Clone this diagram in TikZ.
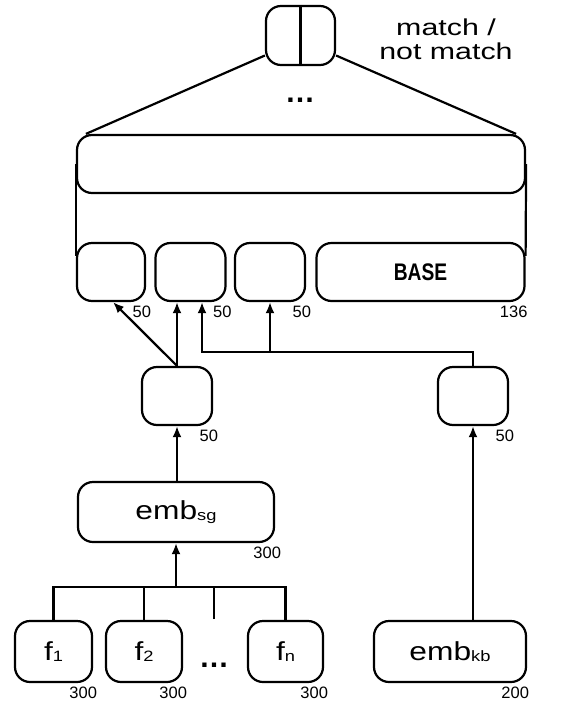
\documentclass[tikz,border=0pt]{standalone}
\usepackage{fontspec}
\setmainfont{Liberation Sans}
\newfontfamily\widesans[FakeStretch=1.22]{Liberation Sans}
\newfontfamily\widersans[FakeStretch=1.32]{Liberation Sans}
\usetikzlibrary{arrows.meta}

\newcommand{\subtext}[1]{\raisebox{-1pt}{\fontsize{15}{15}\selectfont #1}}

\begin{document}
\begin{tikzpicture}[x=1pt, y=-1pt, line width=2.2pt,
    every path/.style={-{Latex[length=11pt, width=9pt]}},
    unit/.style={draw, rounded corners=15pt, inner sep=0pt, minimum height=58pt, font=\widesans\fontsize{26}{26}\selectfont},
    dim/.style={anchor=north east, inner sep=0pt, font=\fontsize{16.5}{16.5}\selectfont}]
    \useasboundingbox (0, 0) rectangle (584, 702);

    \node (top) [unit, minimum width=69pt, minimum height=59pt, at={(300.5, 35.5)}] {};
    \node (verdict) [align=center, inner sep=0pt, font=\widersans\fontsize{23}{24}\selectfont, at={(446, 39)}] {match /\\not match};
    \node (top-dots) [inner sep=0pt, font=\bfseries\fontsize{30}{30}\selectfont, at={(300, 100)}] {…};
    \node (big) [unit, minimum width=448pt, at={(301, 164)}] {};

    \node (b1) [unit, minimum width=68pt, at={(111, 272)}] {};
    \node (b2) [unit, minimum width=70pt, at={(190.5, 272)}] {};
    \node (b3) [unit, minimum width=70pt, at={(270, 272)}] {};
    \node (base) [unit, minimum width=208pt, at={(420.5, 272)}, font=\bfseries\fontsize{24}{24}\selectfont] {\scalebox{0.8}[1]{BASE}};

    \node (m1) [unit, minimum width=70pt, at={(177, 396)}] {};
    \node (m2) [unit, minimum width=70pt, at={(473, 396)}] {};
    \node (embsg) [unit, minimum width=196pt, minimum height=60pt, at={(176, 512)}] {emb\subtext{sg}};

    \node (f1) [unit, minimum width=77pt, minimum height=61pt, at={(53.5, 651.5)}] {f\subtext{1}};
    \node (f2) [unit, minimum width=76pt, minimum height=61pt, at={(144, 651.5)}] {f\subtext{2}};
    \node (f-dots) [inner sep=0pt, font=\bfseries\fontsize{30}{30}\selectfont, at={(214, 665)}] {…};
    \node (fn) [unit, minimum width=75pt, minimum height=61pt, at={(285.5, 651.5)}] {f\subtext{n}};
    \node (embkb) [unit, minimum width=152pt, minimum height=61pt, at={(450, 651.5)}] {emb\subtext{kb}};

    \node (b1-dim) [dim, at={([xshift=6pt, yshift=-3pt]b1.south east)}] {50};
    \node (b2-dim) [dim, at={([xshift=6pt, yshift=-3pt]b2.south east)}] {50};
    \node (b3-dim) [dim, at={([xshift=6pt, yshift=-3pt]b3.south east)}] {50};
    \node (base-dim) [dim, at={([xshift=3pt, yshift=-3pt]base.south east)}] {136};
    \node (m1-dim) [dim, at={([xshift=6pt, yshift=-3pt]m1.south east)}] {50};
    \node (m2-dim) [dim, at={([xshift=6pt, yshift=-3pt]m2.south east)}] {50};
    \node (embsg-dim) [dim, at={([xshift=7pt, yshift=-3pt]embsg.south east)}] {300};
    \node (f1-dim) [dim, at={([xshift=5pt, yshift=-3pt]f1.south east)}] {300};
    \node (f2-dim) [dim, at={([xshift=5pt, yshift=-3pt]f2.south east)}] {300};
    \node (fn-dim) [dim, at={([xshift=5pt, yshift=-3pt]fn.south east)}] {300};
    \node (embkb-dim) [dim, at={([xshift=3pt, yshift=-3pt]embkb.south east)}] {200};

    \draw [-{}] (top.north) -- (top.south);
    \draw [-{}] ([yshift=-20pt]top.west) -- ([xshift=10pt]big.north west);
    \draw [-{}] ([yshift=-20pt]top.east) -- ([xshift=-10pt]big.north east);
    \draw [-{}] (big.west) -- ([yshift=-14pt]b1.north west);
    \draw [-{}] (big.east) -- ([yshift=-14pt]base.north east);

    \draw (m1.north) -- ([xshift=2pt]b1.south);
    \draw (m1.north) -- (m1.north |- b2.south);
    \coordinate (kb-bus) at ([yshift=14pt]m2.north);
    \draw (m2.north) -- (kb-bus) -| ([xshift=11.5pt]b2.south);
    \draw (b3.south |- kb-bus) -- (b3.south);

    \draw (embsg.north -| m1.south) -- (m1.south);
    \coordinate (f-bus) at ([yshift=33pt]f1.north);
    \coordinate (f-stub) at (214, 619);
    \draw [-{}] (f1.north) -- (f1.north |- f-bus) -- (fn.north |- f-bus) -- (fn.north);
    \draw [-{}] (f2.north) -- (f2.north |- f-bus);
    \draw [-{}] (f-stub) -- (f-stub |- f-bus);
    \draw (embsg.south |- f-bus) -- (embsg.south);
    \draw (m2.south |- embkb.north) -- (m2.south);
\end{tikzpicture}
\end{document}
